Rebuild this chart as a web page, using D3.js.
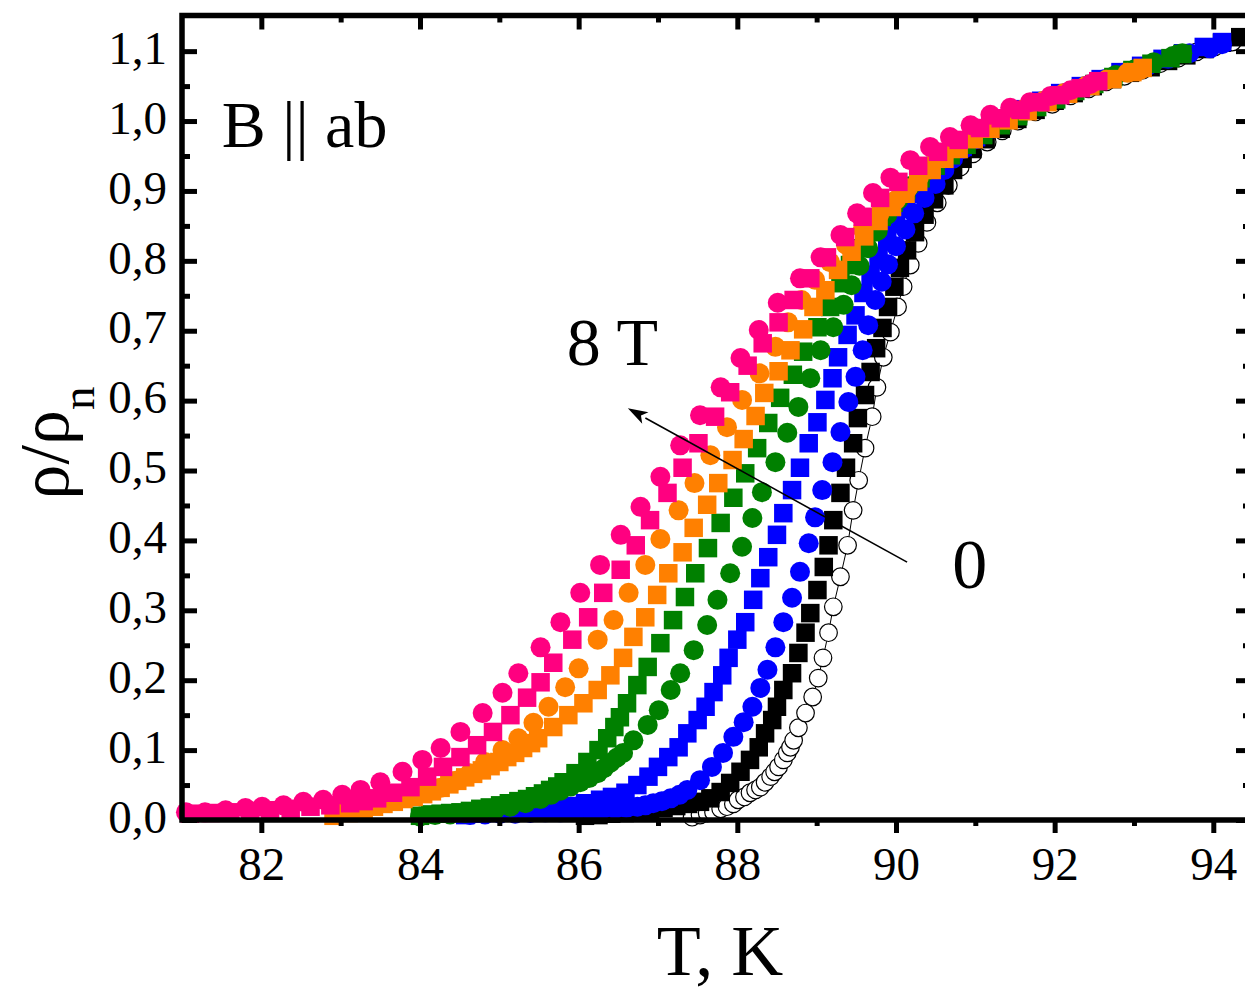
<!DOCTYPE html>
<html>
<head>
<meta charset="utf-8">
<script src="https://cdn.jsdelivr.net/npm/d3@7"></script>
<style>
  html, body { margin: 0; padding: 0; background: #fff; }
  svg { display: block; font-family: "Liberation Serif", "Times New Roman", serif; }
</style>
</head>
<body>
<svg id="chart" width="1245" height="992"></svg>
<script>
// Normalised resistance rho/rho_n versus temperature, field in the ab plane.
// Each series: [T (K), rho/rho_n]. Fields increase from field0 to field8.

const field0 = [
  [87.43,0.004],[87.53,0.007],[87.62,0.010],[87.70,0.011],[87.79,0.016],[87.87,0.019],[87.95,0.023],
  [88.01,0.029],[88.09,0.033],[88.16,0.039],[88.23,0.043],[88.29,0.047],[88.35,0.054],[88.42,0.062],
  [88.47,0.069],[88.52,0.076],[88.58,0.086],[88.63,0.096],[88.67,0.104],[88.71,0.114],[88.77,0.132],
  [88.86,0.153],[88.95,0.176],[89.02,0.203],[89.08,0.232],[89.15,0.268],[89.21,0.305],[89.30,0.348],
  [89.39,0.393],[89.46,0.443],[89.53,0.486],[89.61,0.532],[89.70,0.577],[89.76,0.619],[89.84,0.662],
  [89.93,0.698],[90.02,0.734],[90.09,0.763],[90.18,0.794],[90.28,0.825],[90.39,0.855],[90.52,0.883],
  [90.66,0.908],[90.81,0.934],[90.97,0.953],[91.15,0.970],[91.34,0.986],[91.54,1.000],[91.76,1.013],
  [91.97,1.024],[92.20,1.036],[92.43,1.046],[92.65,1.056],[92.88,1.064],[93.11,1.073],[93.33,1.082],
  [93.56,1.090],[93.79,1.099],[94.02,1.106],[94.24,1.113],[94.47,1.120]
];

const field05 = [
  [86.08,0.006],[86.25,0.007],[86.41,0.009],[86.58,0.010],[86.74,0.013],[86.90,0.014],[87.07,0.017],
  [87.23,0.020],[87.38,0.023],[87.53,0.026],[87.66,0.031],[87.79,0.040],[87.91,0.053],[88.04,0.069],
  [88.16,0.086],[88.27,0.104],[88.35,0.124],[88.44,0.143],[88.50,0.162],[88.58,0.186],[88.69,0.210],
  [88.77,0.239],[88.86,0.268],[88.92,0.296],[89.01,0.329],[89.09,0.362],[89.15,0.393],[89.21,0.429],
  [89.30,0.468],[89.37,0.504],[89.46,0.539],[89.52,0.575],[89.61,0.608],[89.68,0.641],[89.75,0.675],
  [89.83,0.704],[89.90,0.734],[89.98,0.763],[90.05,0.790],[90.14,0.815],[90.24,0.841],[90.36,0.866],
  [90.48,0.888],[90.61,0.908],[90.72,0.930],[90.84,0.946],[90.96,0.960],[91.13,0.974],[91.32,0.989],
  [91.53,1.003],[91.76,1.016],[92.00,1.029],[92.24,1.040],[92.48,1.050],[92.72,1.060],[92.95,1.069],
  [93.21,1.077],[93.43,1.086],[93.66,1.094],[93.89,1.103],[94.11,1.112],[94.34,1.120],[94.53,1.126]
];

const field1 = [
  [84.63,0.007],[84.82,0.008],[85.01,0.009],[85.20,0.009],[85.39,0.010],[85.58,0.011],[85.77,0.011],
  [85.96,0.012],[86.15,0.013],[86.30,0.015],[86.46,0.016],[86.60,0.017],[86.74,0.019],[86.84,0.021],
  [86.94,0.024],[87.05,0.027],[87.16,0.031],[87.27,0.036],[87.37,0.043],[87.53,0.057],[87.68,0.076],
  [87.82,0.096],[87.95,0.119],[88.08,0.140],[88.19,0.162],[88.29,0.189],[88.38,0.215],[88.48,0.247],
  [88.58,0.283],[88.69,0.318],[88.79,0.355],[88.90,0.396],[88.98,0.433],[89.07,0.472],[89.20,0.512],
  [89.30,0.555],[89.40,0.598],[89.49,0.634],[89.58,0.672],[89.65,0.708],[89.74,0.744],[89.82,0.770],
  [89.90,0.795],[90.00,0.821],[90.12,0.845],[90.23,0.868],[90.36,0.890],[90.50,0.910],[90.61,0.930],
  [90.72,0.946],[90.85,0.960],[91.01,0.974],[91.20,0.989],[91.42,1.003],[91.64,1.016],[91.88,1.029],
  [92.14,1.040],[92.39,1.050],[92.64,1.060],[92.91,1.070],[93.17,1.079],[93.43,1.089],[93.70,1.097],
  [93.96,1.104],[94.11,1.110]
];

const field2 = [
  [84.57,0.007],[84.76,0.009],[84.95,0.010],[85.14,0.011],[85.33,0.013],[85.52,0.014],[85.71,0.017],
  [85.90,0.020],[86.08,0.024],[86.27,0.029],[86.42,0.033],[86.59,0.039],[86.74,0.050],[86.88,0.062],
  [87.00,0.076],[87.13,0.090],[87.26,0.104],[87.37,0.124],[87.50,0.143],[87.60,0.162],[87.70,0.183],
  [87.81,0.207],[87.89,0.232],[88.00,0.258],[88.10,0.283],[88.20,0.315],[88.29,0.346],[88.39,0.376],
  [88.50,0.408],[88.58,0.439],[88.69,0.472],[88.79,0.504],[88.90,0.539],[89.01,0.569],[89.11,0.601],
  [89.20,0.632],[89.27,0.662],[89.39,0.694],[89.49,0.722],[89.59,0.754],[89.68,0.780],[89.78,0.805],
  [89.89,0.830],[90.00,0.853],[90.13,0.874],[90.27,0.896],[90.40,0.916],[90.54,0.933],[90.69,0.949],
  [90.84,0.963],[91.01,0.977],[91.19,0.991],[91.39,1.004],[91.61,1.017],[91.83,1.029],[92.07,1.040],
  [92.33,1.050],[92.58,1.060],[92.83,1.070],[93.09,1.079],[93.36,1.089],[93.62,1.097],[93.88,1.106],
  [94.11,1.113]
];

const field3 = [
  [84.00,0.005],[84.19,0.007],[84.38,0.008],[84.57,0.010],[84.76,0.012],[84.95,0.015],[85.14,0.019],
  [85.33,0.024],[85.52,0.030],[85.65,0.036],[85.77,0.042],[85.90,0.048],[86.02,0.054],[86.13,0.060],
  [86.24,0.067],[86.32,0.074],[86.40,0.082],[86.48,0.089],[86.56,0.096],[86.69,0.114],[86.87,0.136],
  [87.01,0.157],[87.16,0.186],[87.28,0.210],[87.45,0.243],[87.62,0.279],[87.75,0.315],[87.91,0.353],
  [88.06,0.391],[88.19,0.432],[88.31,0.469],[88.48,0.512],[88.63,0.554],[88.77,0.591],[88.92,0.632],
  [89.05,0.672],[89.21,0.705],[89.34,0.737],[89.44,0.765],[89.54,0.793],[89.65,0.818],[89.77,0.843],
  [89.89,0.866],[90.03,0.887],[90.18,0.907],[90.35,0.926],[90.52,0.943],[90.71,0.958],[90.91,0.973],
  [91.13,0.987],[91.34,1.000],[91.57,1.013],[91.81,1.024],[92.05,1.036],[92.29,1.046],[92.53,1.056],
  [92.77,1.066],[93.01,1.074],[93.25,1.084],[93.49,1.093],[93.61,1.097]
];

const field4 = [
  [84.00,0.006],[84.13,0.008],[84.26,0.009],[84.38,0.010],[84.51,0.011],[84.63,0.013],[84.76,0.016],
  [84.88,0.018],[85.01,0.021],[85.12,0.024],[85.24,0.027],[85.35,0.030],[85.45,0.034],[85.55,0.038],
  [85.64,0.043],[85.73,0.048],[85.81,0.054],[85.96,0.067],[86.11,0.083],[86.25,0.100],[86.36,0.117],
  [86.45,0.133],[86.52,0.147],[86.61,0.167],[86.74,0.193],[86.87,0.219],[87.03,0.253],[87.19,0.286],
  [87.34,0.319],[87.47,0.353],[87.63,0.389],[87.79,0.425],[87.95,0.461],[88.10,0.496],[88.25,0.532],
  [88.39,0.568],[88.54,0.604],[88.70,0.637],[88.83,0.670],[89.01,0.705],[89.17,0.734],[89.30,0.768],
  [89.42,0.794],[89.55,0.818],[89.68,0.841],[89.82,0.863],[89.97,0.883],[90.13,0.901],[90.31,0.918],
  [90.50,0.936],[90.69,0.951],[90.89,0.966],[91.10,0.980],[91.32,0.994],[91.54,1.007],[91.78,1.020],
  [92.02,1.031],[92.26,1.043],[92.50,1.053],[92.74,1.063],[92.98,1.073],[93.22,1.082],[93.46,1.090],
  [93.61,1.096]
];

const field5 = [
  [82.91,0.006],[83.10,0.010],[83.29,0.016],[83.42,0.019],[83.54,0.023],[83.67,0.026],[83.79,0.030],
  [83.92,0.033],[84.04,0.037],[84.15,0.041],[84.26,0.046],[84.37,0.051],[84.47,0.056],[84.57,0.061],
  [84.67,0.066],[84.78,0.071],[84.89,0.077],[85.00,0.083],[85.10,0.090],[85.20,0.096],[85.30,0.103],
  [85.40,0.110],[85.49,0.117],[85.68,0.133],[85.87,0.150],[86.06,0.167],[86.24,0.186],[86.40,0.207],
  [86.56,0.232],[86.69,0.262],[86.84,0.290],[86.99,0.322],[87.13,0.353],[87.31,0.383],[87.45,0.418],
  [87.62,0.451],[87.76,0.482],[87.94,0.515],[88.08,0.545],[88.23,0.578],[88.34,0.611],[88.52,0.642],
  [88.67,0.672],[88.83,0.702],[88.96,0.734],[89.11,0.758],[89.27,0.787],[89.44,0.813],[89.60,0.835],
  [89.78,0.857],[89.95,0.877],[90.12,0.896],[90.28,0.913],[90.45,0.930],[90.61,0.946],[90.79,0.960],
  [90.98,0.974],[91.19,0.989],[91.42,1.001],[91.66,1.014],[91.91,1.027],[92.17,1.039],[92.45,1.050],
  [92.73,1.060],[92.98,1.070],[93.11,1.076]
];

const field6 = [
  [82.93,0.011],[83.12,0.016],[83.31,0.020],[83.50,0.024],[83.69,0.029],[83.88,0.033],[84.07,0.039],
  [84.26,0.046],[84.45,0.056],[84.63,0.067],[84.82,0.083],[85.04,0.100],[85.24,0.117],[85.43,0.139],
  [85.62,0.162],[85.83,0.190],[86.00,0.217],[86.24,0.258],[86.44,0.286],[86.63,0.325],[86.84,0.365],
  [87.03,0.402],[87.26,0.443],[87.46,0.482],[87.66,0.522],[87.87,0.562],[88.06,0.601],[88.28,0.639],
  [88.48,0.677],[88.64,0.712],[88.81,0.744],[88.98,0.773],[89.17,0.798],[89.37,0.823],[89.58,0.845],
  [89.79,0.867],[90.00,0.887],[90.15,0.904],[90.29,0.920],[90.44,0.936],[90.60,0.950],[90.76,0.964],
  [90.94,0.979],[91.14,0.991],[91.37,1.004],[91.61,1.017],[91.86,1.029],[92.12,1.040],[92.39,1.050],
  [92.65,1.059],[92.92,1.069],[93.08,1.073]
];

const field7 = [
  [81.10,0.009],[81.36,0.010],[81.61,0.011],[81.86,0.013],[82.11,0.014],[82.37,0.016],[82.62,0.019],
  [82.87,0.021],[83.12,0.024],[83.29,0.027],[83.46,0.031],[83.66,0.039],[83.88,0.047],[84.09,0.062],
  [84.29,0.076],[84.51,0.090],[84.72,0.107],[84.92,0.126],[85.14,0.150],[85.35,0.175],[85.52,0.197],
  [85.68,0.225],[85.92,0.258],[86.12,0.290],[86.31,0.325],[86.53,0.358],[86.72,0.393],[86.90,0.429],
  [87.12,0.468],[87.31,0.504],[87.51,0.539],[87.72,0.577],[87.91,0.612],[88.13,0.650],[88.32,0.682],
  [88.52,0.712],[88.71,0.744],[88.92,0.775],[89.13,0.805],[89.36,0.834],[89.58,0.863],[89.80,0.890],
  [90.03,0.913],[90.28,0.936],[90.53,0.956],[90.79,0.973],[91.06,0.990],[91.32,1.004],[91.57,1.016],
  [91.82,1.027],[92.07,1.037],[92.33,1.047],[92.55,1.057]
];

const field8 = [
  [81.05,0.011],[81.29,0.011],[81.55,0.014],[81.80,0.017],[82.01,0.019],[82.28,0.021],[82.53,0.026],
  [82.78,0.029],[83.02,0.036],[83.25,0.043],[83.50,0.054],[83.78,0.069],[84.03,0.086],[84.26,0.103],
  [84.51,0.126],[84.79,0.153],[85.04,0.182],[85.24,0.210],[85.52,0.247],[85.77,0.283],[86.02,0.325],
  [86.27,0.365],[86.53,0.408],[86.78,0.448],[87.03,0.491],[87.28,0.536],[87.53,0.579],[87.79,0.619],
  [88.04,0.661],[88.27,0.701],[88.51,0.740],[88.79,0.775],[89.05,0.805],[89.30,0.837],[89.51,0.868],
  [89.71,0.897],[89.93,0.919],[90.18,0.944],[90.43,0.963],[90.68,0.977],[90.94,0.994],[91.19,1.009],
  [91.44,1.019],[91.69,1.027],[91.95,1.036],[92.20,1.044],[92.45,1.053]
];

// axis ticks
const xMajorTicks = [82, 84, 86, 88, 90, 92, 94];
const xMinorTicks = [83, 85, 87, 89, 91, 93];
const yMajorTicks = [0, 0.1, 0.2, 0.3, 0.4, 0.5, 0.6, 0.7, 0.8, 0.9, 1.0, 1.1];
const yTickLabels = ["0,0","0,1","0,2","0,3","0,4","0,5","0,6","0,7","0,8","0,9","1,0","1,1"];
const yMinorTicks = [0.05, 0.15, 0.25, 0.35, 0.45, 0.55, 0.65, 0.75, 0.85, 0.95, 1.05];

// drawing order: lowest field first, highest field on top
const series = [
  { data: field0,  shape: "circle", color: "#000000", open: true },
  { data: field05, shape: "square", color: "#000000" },
  { data: field1,  shape: "circle", color: "#0000FF" },
  { data: field2,  shape: "square", color: "#0000FF" },
  { data: field3,  shape: "circle", color: "#008000" },
  { data: field4,  shape: "square", color: "#008000" },
  { data: field5,  shape: "square", color: "#FF8000" },
  { data: field6,  shape: "circle", color: "#FF8000" },
  { data: field7,  shape: "square", color: "#FF0080" },
  { data: field8,  shape: "circle", color: "#FF0080" }
];

(function draw() {
  const svg = d3.select("#chart");
  const xDomain = [81, 94.45];
  const yDomain = [0, 1.151];
  const pl = 182, pr = 1249, pt = 15.5, pb = 820;

  const x = d3.scaleLinear().domain(xDomain).range([pl, pr]);
  const y = d3.scaleLinear().domain(yDomain).range([pb, pt]);

  const FONT = '"Liberation Serif", "Times New Roman", serif';

  // markers
  const plot = svg.append("g");
  series.forEach(s => {
    const grp = plot.append("g");
    if (s.open) {
      grp.append("path")
        .datum(s.data)
        .attr("fill", "none")
        .attr("stroke", "#000")
        .attr("stroke-width", 1)
        .attr("d", d3.line().x(d => x(d[0])).y(d => y(d[1])));
    }
    const sym = s.shape === "square"
      ? d3.symbol().type(d3.symbolSquare).size(18.5 * 18.5)
      : d3.symbol().type(d3.symbolCircle).size(s.open ? Math.PI * 8.8 * 8.8 : Math.PI * 10 * 10);
    grp.selectAll("path.m")
      .data(s.data)
      .join("path")
      .attr("class", "m")
      .attr("transform", d => `translate(${x(d[0])},${y(d[1])})`)
      .attr("d", sym())
      .attr("fill", s.open ? "#fff" : s.color)
      .attr("stroke", s.open ? "#000" : "none")
      .attr("stroke-width", s.open ? 1.2 : 0);
  });

  function styleAxis(g, fontSize) {
    g.select(".domain").remove();
    g.selectAll(".tick line").attr("stroke", "#000").attr("stroke-width", 5);
    g.selectAll(".tick text")
      .attr("fill", "#000")
      .style("font-family", FONT)
      .style("font-size", fontSize + "px");
  }

  // bottom: ticks point outward
  svg.append("g").attr("transform", `translate(0,${pb})`)
    .call(d3.axisBottom(x).tickValues(xMajorTicks).tickSize(13).tickPadding(14).tickFormat(d3.format("d")))
    .call(g => styleAxis(g, 47));
  svg.append("g").attr("transform", `translate(0,${pb})`)
    .call(d3.axisBottom(x).tickValues(xMinorTicks).tickSize(6).tickFormat(""))
    .call(g => styleAxis(g, 47));

  // top: inward ticks, no labels
  svg.append("g").attr("transform", `translate(0,${pt})`)
    .call(d3.axisTop(x).tickValues(xMajorTicks).tickSize(-14).tickFormat(""))
    .call(g => styleAxis(g, 47));
  svg.append("g").attr("transform", `translate(0,${pt})`)
    .call(d3.axisTop(x).tickValues(xMinorTicks).tickSize(-7).tickFormat(""))
    .call(g => styleAxis(g, 47));

  // left: inward ticks with labels
  svg.append("g").attr("transform", `translate(${pl},0)`)
    .call(d3.axisLeft(y).tickValues(yMajorTicks).tickSize(-15).tickPadding(15)
      .tickFormat((d, i) => yTickLabels[i]))
    .call(g => styleAxis(g, 47))
    .call(g => g.selectAll(".tick text").attr("dy", "0.26em"));
  svg.append("g").attr("transform", `translate(${pl},0)`)
    .call(d3.axisLeft(y).tickValues(yMinorTicks).tickSize(-8).tickFormat(""))
    .call(g => styleAxis(g, 47));

  // right: inward ticks
  svg.append("g").attr("transform", `translate(${pr},0)`)
    .call(d3.axisRight(y).tickValues(yMajorTicks).tickSize(-13).tickFormat(""))
    .call(g => styleAxis(g, 47));
  svg.append("g").attr("transform", `translate(${pr},0)`)
    .call(d3.axisRight(y).tickValues(yMinorTicks).tickSize(-6).tickFormat(""))
    .call(g => styleAxis(g, 47));

  // frame
  svg.append("rect")
    .attr("x", pl).attr("y", pt)
    .attr("width", pr - pl).attr("height", pb - pt)
    .attr("fill", "none").attr("stroke", "#000").attr("stroke-width", 5.5);

  // axis titles
  svg.append("text")
    .attr("x", 720).attr("y", 975)
    .attr("text-anchor", "middle")
    .style("font-family", FONT).style("font-size", "72px")
    .text("T, K");

  const yt = svg.append("text")
    .attr("transform", "translate(68,443) rotate(-90)")
    .attr("text-anchor", "middle")
    .style("font-family", FONT).style("font-size", "70px");
  yt.append("tspan").text("ρ/ρ");
  yt.append("tspan").attr("baseline-shift", "sub").style("font-size", "47px").text("n");

  // annotations
  svg.append("text")
    .attr("x", x(81.5)).attr("y", y(0.963))
    .style("font-family", FONT).style("font-size", "66px")
    .text("B || ab");

  svg.append("text")
    .attr("x", x(85.85)).attr("y", y(0.651))
    .style("font-family", FONT).style("font-size", "68px")
    .text("8 T");

  svg.append("text")
    .attr("x", x(90.71)).attr("y", y(0.332))
    .style("font-family", FONT).style("font-size", "70px")
    .text("0");

  // arrow pointing from low field towards high field
  const arrowFrom = [90.14, 0.369], arrowTo = [86.62, 0.589];
  const ax1 = x(arrowFrom[0]), ay1 = y(arrowFrom[1]), ax2 = x(arrowTo[0]), ay2 = y(arrowTo[1]);
  const ang = Math.atan2(ay2 - ay1, ax2 - ax1);
  const headLen = 20, headHalf = 6.5;
  const bx = ax2 - headLen * Math.cos(ang), by = ay2 - headLen * Math.sin(ang);
  svg.append("line")
    .attr("x1", ax1).attr("y1", ay1).attr("x2", bx).attr("y2", by)
    .attr("stroke", "#000").attr("stroke-width", 1.6);
  svg.append("path")
    .attr("d", `M${ax2},${ay2}L${bx - headHalf * Math.sin(ang)},${by + headHalf * Math.cos(ang)}` +
               `L${bx + 5 * Math.cos(ang)},${by + 5 * Math.sin(ang)}` +
               `L${bx + headHalf * Math.sin(ang)},${by - headHalf * Math.cos(ang)}Z`)
    .attr("fill", "#000");
})();
</script>
</body>
</html>
